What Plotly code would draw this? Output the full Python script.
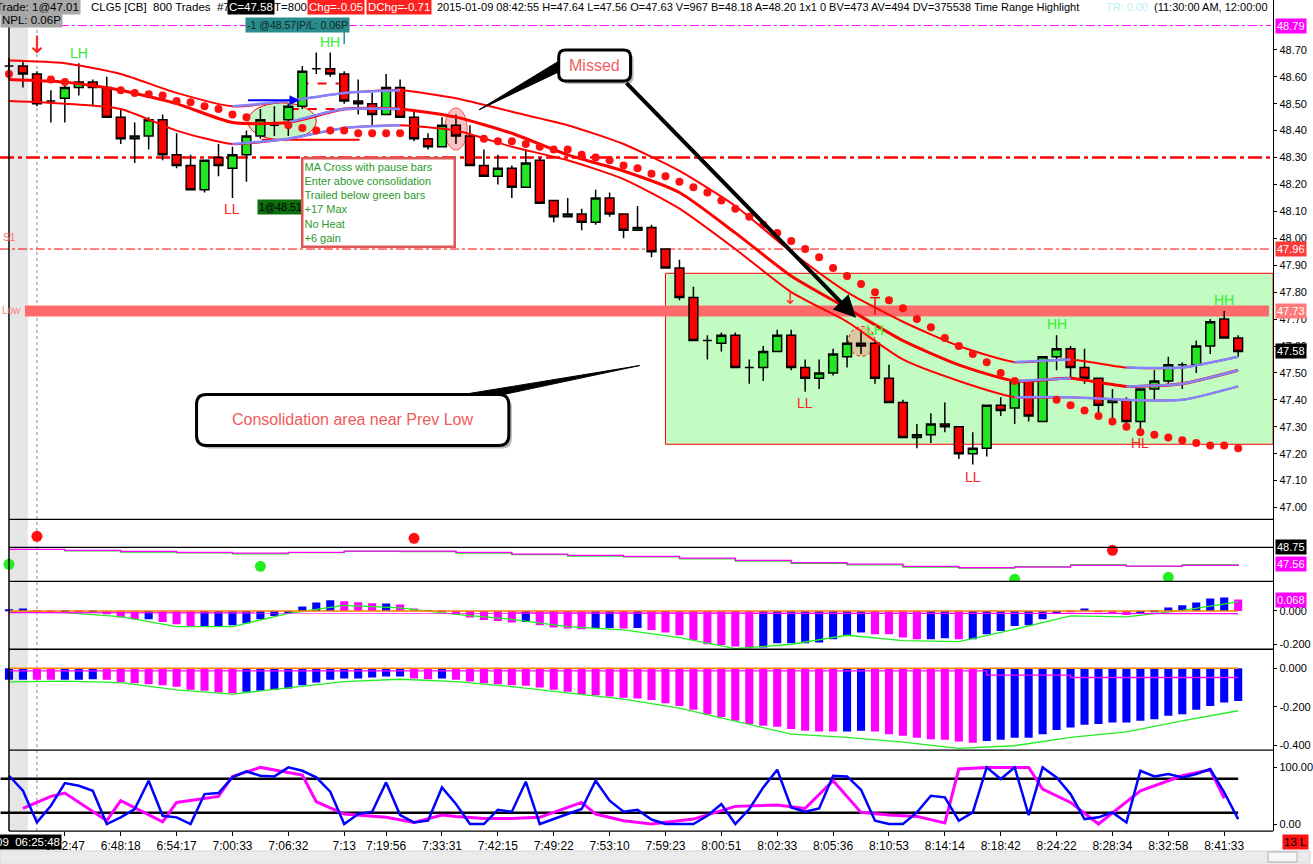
import plotly.graph_objects as go

W, H = 1313, 864
FONT = 'Liberation Sans, Arial, sans-serif'


def px(x):
    return x / W


def py(y):
    return 1 - y / H


# ---- price bars (one bar per 800 trades) ----
bars = list(range(89))
opens = [48.64, 48.64, 48.61, 48.51, 48.52, 48.56, 48.58, 48.56, 48.45, 48.37,
         48.38, 48.44, 48.31, 48.27, 48.18, 48.30, 48.26, 48.31, 48.38, 48.42,
         48.44, 48.49, 48.63, 48.63, 48.61, 48.51, 48.50, 48.46, 48.56, 48.45,
         48.37, 48.34, 48.42, 48.38, 48.27, 48.23, 48.26, 48.19, 48.29, 48.14,
         48.08, 48.09, 48.06, 48.15, 48.09, 48.03, 48.04, 47.96, 47.89, 47.78,
         47.62, 47.61, 47.64, 47.52, 47.52, 47.58, 47.64, 47.52, 47.48, 47.50,
         47.56, 47.61, 47.61, 47.48, 47.39, 47.26, 47.27, 47.31, 47.30, 47.20,
         47.22, 47.38, 47.37, 47.47, 47.32, 47.56, 47.59, 47.52, 47.48, 47.39,
         47.40, 47.32, 47.44, 47.47, 47.53, 47.53, 47.60, 47.70, 47.63]
highs = [48.67, 48.66, 48.62, 48.55, 48.59, 48.65, 48.59, 48.60, 48.48, 48.43,
         48.45, 48.46, 48.39, 48.31, 48.29, 48.35, 48.34, 48.40, 48.48, 48.49,
         48.50, 48.64, 48.69, 48.69, 48.62, 48.59, 48.54, 48.61, 48.59, 48.47,
         48.39, 48.45, 48.46, 48.42, 48.33, 48.31, 48.27, 48.33, 48.30, 48.14,
         48.15, 48.11, 48.18, 48.17, 48.09, 48.12, 48.05, 47.96, 47.92, 47.82,
         47.64, 47.65, 47.65, 47.55, 47.60, 47.66, 47.66, 47.55, 47.55, 47.59,
         47.64, 47.66, 47.62, 47.53, 47.40, 47.31, 47.35, 47.39, 47.30, 47.28,
         47.38, 47.41, 47.47, 47.47, 47.56, 47.64, 47.60, 47.59, 47.48, 47.44,
         47.41, 47.44, 47.51, 47.56, 47.54, 47.62, 47.70, 47.73, 47.64]
lows = [48.60, 48.56, 48.49, 48.43, 48.43, 48.53, 48.49, 48.45, 48.35, 48.28,
        48.33, 48.29, 48.26, 48.18, 48.17, 48.23, 48.15, 48.21, 48.37, 48.38,
        48.38, 48.48, 48.61, 48.60, 48.50, 48.46, 48.42, 48.46, 48.45, 48.36,
        48.33, 48.34, 48.35, 48.27, 48.23, 48.20, 48.15, 48.19, 48.13, 48.06,
        48.08, 48.03, 48.05, 48.08, 48.00, 48.03, 47.93, 47.89, 47.77, 47.62,
        47.55, 47.58, 47.52, 47.46, 47.47, 47.58, 47.51, 47.43, 47.44, 47.49,
        47.52, 47.57, 47.46, 47.39, 47.26, 47.22, 47.24, 47.28, 47.18, 47.16,
        47.19, 47.34, 47.31, 47.32, 47.32, 47.51, 47.48, 47.46, 47.34, 47.33,
        47.31, 47.28, 47.40, 47.46, 47.44, 47.50, 47.57, 47.63, 47.56]
closes = [48.64, 48.61, 48.50, 48.51, 48.56, 48.58, 48.56, 48.45, 48.37, 48.38,
          48.44, 48.31, 48.27, 48.18, 48.29, 48.27, 48.31, 48.38, 48.44, 48.42,
          48.49, 48.62, 48.63, 48.61, 48.51, 48.50, 48.46, 48.56, 48.45, 48.37,
          48.34, 48.42, 48.38, 48.27, 48.23, 48.26, 48.19, 48.28, 48.13, 48.08,
          48.09, 48.06, 48.15, 48.09, 48.03, 48.04, 47.95, 47.89, 47.78, 47.62,
          47.62, 47.64, 47.52, 47.52, 47.58, 47.64, 47.52, 47.48, 47.50, 47.57,
          47.61, 47.60, 47.48, 47.39, 47.26, 47.27, 47.31, 47.30, 47.20, 47.22,
          47.38, 47.36, 47.47, 47.34, 47.56, 47.59, 47.52, 47.48, 47.38, 47.40,
          47.32, 47.44, 47.47, 47.53, 47.53, 47.60, 47.69, 47.63, 47.58]

# ---- moving average bands, read every 4th bar ----
band_x = [0, 4, 8, 12, 16, 20, 24, 28, 32, 36, 40, 44, 48, 52, 56, 60, 64, 68, 72, 76, 80, 84, 88]
band_upper = [48.66, 48.65, 48.61, 48.54, 48.49, 48.51, 48.54, 48.55, 48.52, 48.47, 48.42, 48.35,
              48.25, 48.12, 47.95, 47.80, 47.69, 47.60, 47.54, 47.55, 47.52, 47.52, 47.56]
band_mid = [48.59, 48.58, 48.55, 48.50, 48.43, 48.43, 48.48, 48.48, 48.45, 48.39, 48.31, 48.25,
            48.17, 48.02, 47.86, 47.74, 47.62, 47.53, 47.47, 47.48, 47.45, 47.46, 47.51]
band_lower = [48.51, 48.50, 48.48, 48.40, 48.35, 48.37, 48.41, 48.42, 48.40, 48.34, 48.29, 48.22,
              48.11, 47.96, 47.80, 47.69, 47.55, 47.47, 47.41, 47.41, 47.40, 47.40, 47.45]

# ---- trailing stop dots ----
dot_x = [0, 3, 4, 8, 9, 10, 11, 12, 13, 14, 15, 16, 17, 20, 21, 22, 23, 24, 25, 26, 27, 28,
         34, 35, 36, 37, 38, 39, 40, 41, 42, 43, 44, 45, 46, 47, 48, 49, 50, 51, 52, 53,
         54, 55, 56, 57, 58, 59, 60, 61, 62, 63, 64, 65, 66, 67, 68, 69, 70, 71, 72,
         75, 76, 77, 78, 79, 80, 81, 82, 83, 84, 85, 86, 87, 88]
dot_y = [48.61, 48.59, 48.58, 48.55, 48.54, 48.535, 48.53, 48.51, 48.505, 48.49, 48.48, 48.46, 48.45,
         48.42, 48.41, 48.40, 48.40, 48.40, 48.39, 48.39, 48.39, 48.39,
         48.37, 48.36, 48.36, 48.35, 48.34, 48.33, 48.33, 48.31, 48.30, 48.29,
         48.27, 48.26, 48.24, 48.23, 48.21, 48.19, 48.17, 48.14, 48.11, 48.08,
         48.05, 48.02, 47.99, 47.96, 47.93, 47.89, 47.86, 47.83, 47.80, 47.77,
         47.74, 47.70, 47.67, 47.63, 47.60, 47.57, 47.54, 47.50, 47.47,
         47.40, 47.38, 47.36, 47.34, 47.32, 47.30, 47.28, 47.27, 47.26, 47.25, 47.24, 47.23, 47.23, 47.22]

# ---- price levels ----
lvl_r1 = 48.79
lvl_pivot = 48.30
lvl_s1 = 47.96
lvl_prev_low = 47.73
last_price = 47.58
box_top, box_bottom = 47.87, 47.235
price_ticks = [47.00, 47.10, 47.20, 47.30, 47.40, 47.50, 47.60, 47.70, 47.80, 47.90,
               48.00, 48.10, 48.20, 48.30, 48.40, 48.50, 48.60, 48.70]

swing_labels = [(5, 48.69, 'LH'), (23, 48.73, 'HH'), (16, 48.11, 'LL'), (57, 47.39, 'LL'),
                (62, 47.66, 'LH'), (75, 47.68, 'HH'), (87, 47.77, 'HH'), (81, 47.24, 'HL'),
                (69, 47.115, 'LL')]

# ---- panel 2: slow average ----
slow_mag = [48.61, 48.54, 48.47, 48.40, 48.35, 48.40, 48.49, 48.49, 48.40, 48.28, 48.19, 48.12,
            48.00, 47.84, 47.68, 47.58, 47.42, 47.33, 47.37, 47.49, 47.44, 47.49, 47.56]
slow_grn = [48.60, 48.50, 48.42, 48.36, 48.30, 48.38, 48.47, 48.45, 48.35, 48.24, 48.14, 48.08,
            47.95, 47.78, 47.62, 47.52, 47.36, 47.30, 47.40, 47.53, 47.42, 47.52, 47.58]
slow_level = 48.75
sell_x, sell_y = [2, 29, 79], [49.52, 49.38, 48.54]
buy_x, buy_y = [0, 18, 72, 83], [47.56, 47.42, 46.51, 46.65]

# ---- panel 3: fast MACD histogram ----
macd_fast = [0.010, 0.014, -0.006, -0.004, -0.006, -0.004, -0.004, -0.020, -0.040, -0.050,
             -0.050, -0.066, -0.080, -0.096, -0.096, -0.096, -0.086, -0.074, -0.050, -0.030,
             -0.014, 0.026, 0.050, 0.064, 0.058, 0.052, 0.046, 0.044, 0.038, 0.014,
             -0.002, -0.010, -0.020, -0.040, -0.054, -0.060, -0.070, -0.066, -0.086, -0.100,
             -0.106, -0.110, -0.102, -0.102, -0.106, -0.102, -0.114, -0.130, -0.146, -0.174,
             -0.200, -0.204, -0.214, -0.224, -0.220, -0.194, -0.194, -0.194, -0.190, -0.170,
             -0.146, -0.130, -0.140, -0.140, -0.160, -0.170, -0.170, -0.164, -0.170, -0.170,
             -0.140, -0.120, -0.090, -0.086, -0.050, -0.016, -0.004, 0.014, -0.006, -0.014,
             -0.024, -0.014, -0.006, 0.020, 0.034, 0.050, 0.074, 0.080, 0.068]
macd_fast_col = ('bbmmbmbmmm' 'bmmmbbbbbb' 'bbbbmmmbmm' 'mmmmmmmbmm' 'mmbbmbmmmm'
                 'mmmmbbbbbb' 'bbmmmmbbmb' 'bbbbbbmbmm' 'mbbbbbbbm')
macd_fast_sig = [-0.004, -0.010, -0.034, -0.094, -0.094, -0.014, 0.034, 0.018, -0.020, -0.050, -0.094,
                 -0.114, -0.160, -0.226, -0.200, -0.146, -0.178, -0.184, -0.110, -0.030, -0.036, 0.004, 0.054]
macd_fast_avg_x, macd_fast_avg_y = [0, 46, 88], [-0.010, -0.014, -0.016]

# ---- panel 4: slow MACD histogram ----
macd_slow = [-0.060, -0.060, -0.060, -0.060, -0.060, -0.060, -0.057, -0.060, -0.071, -0.078,
             -0.083, -0.088, -0.096, -0.112, -0.117, -0.126, -0.129, -0.122, -0.117, -0.112,
             -0.105, -0.088, -0.074, -0.060, -0.053, -0.053, -0.048, -0.043, -0.043, -0.053,
             -0.057, -0.053, -0.060, -0.069, -0.078, -0.083, -0.088, -0.091, -0.100, -0.112,
             -0.122, -0.134, -0.140, -0.146, -0.153, -0.157, -0.164, -0.181, -0.195, -0.215,
             -0.238, -0.252, -0.272, -0.289, -0.298, -0.303, -0.315, -0.324, -0.327, -0.327,
             -0.327, -0.324, -0.327, -0.341, -0.350, -0.360, -0.367, -0.370, -0.379, -0.386,
             -0.376, -0.370, -0.360, -0.360, -0.341, -0.319, -0.307, -0.293, -0.288, -0.281,
             -0.281, -0.272, -0.264, -0.246, -0.238, -0.215, -0.195, -0.177, -0.169]
macd_slow_col = ('bbmmbbbmmm' 'mmmmmmmbbb' 'bbbbbbbbbm' 'mbmmmmmmmm' 'mmmmmmmmmm'
                 'mmmmmmmmmm' 'bbmmmmmmmm' 'bbbbbbbbbb' 'bbbbbbbbb')
macd_slow_sig = [-0.071, -0.067, -0.074, -0.112, -0.134, -0.100, -0.069, -0.057, -0.069, -0.095, -0.129,
                 -0.160, -0.207, -0.272, -0.341, -0.358, -0.382, -0.415, -0.401, -0.358, -0.329, -0.272, -0.220]
macd_slow_avg_x, macd_slow_avg_y = [0, 70, 76, 88], [-0.014, -0.036, -0.048, -0.048]

# ---- panel 5: stochastic ----
stoch_k = [85.3, 58.8, 2.9, 32.4, 72.4, 67.6, 58.8, 0, 11.8, 26.5,
           76.5, 14.7, 11.8, 0, 52.9, 54.7, 82.4, 92.9, 85.3, 84.1,
           100, 94.1, 82.4, 57.1, 0, 17.6, 21.8, 73.5, 15.9, 2.9,
           5.9, 64.7, 35.3, 0, 0, 25.3, 21.8, 74.7, 0, 8.8,
           17.6, 26.5, 76.5, 41.2, 21.8, 25.3, 8.0, 0, 0, 0,
           14.7, 35.3, 0, 26.5, 64.7, 95.9, 29.4, 21.8, 27.6, 85.3,
           84.1, 60.6, 5.9, 0, 0, 20.6, 50.0, 47.1, 5.9, 20.6,
           100, 79.4, 100, 15.9, 100, 82.4, 52.9, 8.8, 11.8, 20.6,
           2.9, 94.1, 84.1, 88.2, 82.4, 88.2, 97.1, 55.9, 8.8]
stoch_d_x = [1, 3, 4, 7, 8, 11, 12, 15, 16, 18, 21, 22, 24, 27, 29, 31, 32, 34, 36, 38, 41, 42,
             44, 46, 49, 51, 52, 55, 57, 59, 61, 63, 65, 67, 68, 70, 73, 74, 76, 78, 81, 84, 86, 87]
stoch_d_y = [27.6, 48.8, 54.7, 5.9, 41.2, 4.1, 38.2, 48.8, 84.1, 100, 86.5, 39.4, 17.6, 11.8, 2.9,
             15.9, 13.5, 10.0, 10.0, 11.8, 38.2, 17.6, 5.9, 0, 8.8, 23.5, 31.2, 33.5, 27.6, 76.5,
             20.6, 15.9, 13.5, 1.8, 97.1, 100, 100, 61.8, 38.2, 0, 58.8, 85.3, 95.9, 45.3]
stoch_levels = [80, 20]

tick_idx = [4, 8, 12, 16, 20, 24, 27, 31, 35, 39, 43, 47, 51, 55, 59, 63, 67, 71, 75, 79, 83, 87]
tick_txt = ['6:42:47', '6:48:18', '6:54:17', '7:00:33', '7:06:32', '7:13', '7:19:56', '7:33:31',
            '7:42:15', '7:49:22', '7:53:10', '7:59:23', '8:00:51', '8:02:33', '8:05:36', '8:10:53',
            '8:14:14', '8:18:42', '8:24:22', '8:28:34', '8:32:58', '8:41:33']

RED = '#ff0000'
GREEN = '#22e622'
BLUE = '#0000ff'
MAG = '#ff00ff'
LBLUE = '#8484ff'
cmap = {'b': BLUE, 'm': MAG}
AXR = 1276  # right price axis, in pixels

fig = go.Figure()


def seg(vals, a, b):
    i0, i1 = band_x.index(a), band_x.index(b) + 1
    return band_x[i0:i1], vals[i0:i1]


# bands
for vals, w in [(band_upper, 2), (band_mid, 3), (band_lower, 2)]:
    fig.add_trace(go.Scatter(x=band_x, y=vals, mode='lines', line=dict(color=RED, width=w, shape='spline', smoothing=0.6),
                             yaxis='y', hoverinfo='skip'))
for vals, parts in [(band_upper, [(16, 28), (72, 76), (80, 88)]),
                    (band_mid, [(20, 28), (72, 76), (80, 88)]),
                    (band_lower, [(16, 28), (72, 88)])]:
    for a, b in parts:
        sx, sy = seg(vals, a, b)
        fig.add_trace(go.Scatter(x=sx, y=sy, mode='lines', line=dict(color=LBLUE, width=2.5, shape='spline', smoothing=0.6),
                                 yaxis='y', hoverinfo='skip'))

fig.add_trace(go.Scatter(x=dot_x, y=dot_y, mode='markers', marker=dict(color='#ff1010', size=8),
                         yaxis='y', hoverinfo='skip'))

fig.add_trace(go.Candlestick(
    x=bars, open=opens, high=highs, low=lows, close=closes, yaxis='y', whiskerwidth=0,
    increasing=dict(line=dict(color='black', width=1.5), fillcolor=GREEN),
    decreasing=dict(line=dict(color='black', width=1.5), fillcolor=RED),
    hoverinfo='skip'))

# panel 2
fig.add_trace(go.Scatter(x=band_x, y=slow_grn, mode='lines', line=dict(color='#22dd22', width=1.2, shape='hv'), yaxis='y2'))
fig.add_trace(go.Scatter(x=band_x, y=slow_mag, mode='lines', line=dict(color=MAG, width=1.2, shape='hv'), yaxis='y2'))
fig.add_trace(go.Scatter(x=sell_x, y=sell_y, mode='markers', marker=dict(color='#ff1010', size=11, symbol='circle'), yaxis='y2'))
fig.add_trace(go.Scatter(x=buy_x, y=buy_y, mode='markers', marker=dict(color='#22ee22', size=11), yaxis='y2'))

# panel 3
fig.add_trace(go.Bar(x=bars, y=macd_fast, marker=dict(color=[cmap[c] for c in macd_fast_col], line=dict(width=0)),
                     width=0.58, yaxis='y3'))
fig.add_trace(go.Scatter(x=band_x, y=macd_fast_sig, mode='lines', line=dict(color='#22ee22', width=1.3), yaxis='y3'))
fig.add_trace(go.Scatter(x=macd_fast_avg_x, y=macd_fast_avg_y, mode='lines', line=dict(color=MAG, width=1.3), yaxis='y3'))
fig.add_trace(go.Scatter(x=[bars[0], bars[-1]], y=[0, 0], mode='lines', line=dict(color='#ff8000', width=1.5), yaxis='y3'))

# panel 4
fig.add_trace(go.Bar(x=bars, y=macd_slow, marker=dict(color=[cmap[c] for c in macd_slow_col], line=dict(width=0)),
                     width=0.58, yaxis='y4'))
fig.add_trace(go.Scatter(x=band_x, y=macd_slow_sig, mode='lines', line=dict(color='#22ee22', width=1.3), yaxis='y4'))
fig.add_trace(go.Scatter(x=macd_slow_avg_x, y=macd_slow_avg_y, mode='lines', line=dict(color=MAG, width=1.3, shape='hv'), yaxis='y4'))
fig.add_trace(go.Scatter(x=[bars[0], bars[-1]], y=[0, 0], mode='lines', line=dict(color='#ff8000', width=1.5), yaxis='y4'))

# panel 5
fig.add_trace(go.Scatter(x=stoch_d_x, y=stoch_d_y, mode='lines', line=dict(color=MAG, width=3), yaxis='y5'))
fig.add_trace(go.Scatter(x=bars, y=stoch_k, mode='lines', line=dict(color=BLUE, width=2.5), yaxis='y5'))

shapes = []


def hline(yv, x0, x1, yref, color, width, dash='solid', layer='below'):
    shapes.append(dict(type='line', xref='paper', yref=yref, x0=px(x0), x1=px(x1), y0=yv, y1=yv,
                       line=dict(color=color, width=width, dash=dash), layer=layer))


def pline(x0, y0, x1, y1, color, width, dash='solid', layer='above'):
    shapes.append(dict(type='line', xref='paper', yref='paper', x0=px(x0), y0=py(y0), x1=px(x1), y1=py(y1),
                       line=dict(color=color, width=width, dash=dash), layer=layer))


def rrect(x0, y0, x1, y1, r):
    rx, ry = r / W, r / H
    a, b, c, d = px(x0), py(y0), px(x1), py(y1)
    return (f'M {a + rx} {b} L {c - rx} {b} Q {c} {b} {c} {b - ry} L {c} {d + ry} Q {c} {d} {c - rx} {d} '
            f'L {a + rx} {d} Q {a} {d} {a} {d + ry} L {a} {b - ry} Q {a} {b} {a + rx} {b} Z')


def poly(pts):
    return 'M ' + ' L '.join(f'{px(x)} {py(y)}' for x, y in pts) + ' Z'


# left gray strip, borders
shapes.append(dict(type='rect', xref='paper', yref='paper', x0=px(10), x1=px(28), y0=py(832), y1=1,
                   fillcolor='#e6e6e6', line=dict(width=0), layer='below'))
pline(37, 0, 37, 832, '#888888', 1, 'dot', 'below')
pline(9, 0, 9, 832, 'black', 1.5)

# consolidation box
shapes.append(dict(type='rect', xref='paper', yref='y', x0=px(667), x1=px(AXR), y0=box_bottom, y1=box_top,
                   fillcolor='#c2fcc2', line=dict(color=RED, width=1), layer='below'))
hline(lvl_r1, 60, 1274, 'y', MAG, 1, 'dashdot')
hline(lvl_pivot, 0, 1274, 'y', RED, 2.5, '14px,4px,4px,4px')
hline(lvl_s1, 0, 1274, 'y', RED, 1, 'dashdot')
hline(lvl_prev_low, 25, 1272, 'y', '#ff6b6b', 11)

# trade markers
shapes.append(dict(type='circle', xref='x', yref='y', x0=17.1, x1=22.0, y0=48.366, y1=48.503,
                   fillcolor='#c4f5c4', line=dict(color=RED, width=1), layer='below'))
shapes.append(dict(type='circle', xref='x', yref='y', x0=31.2, x1=32.8, y0=48.328, y1=48.484,
                   fillcolor='#f9c2c2', line=dict(color='#ff5050', width=1), layer='below'))
shapes.append(dict(type='circle', xref='x', yref='y', x0=60.1, x1=62.0, y0=47.562, y1=47.673,
                   fillcolor='#dac89f', line=dict(color=RED, width=1, dash='dot'), layer='below'))
shapes.append(dict(type='line', xref='x', yref='y', x0=20.8, x1=23.9, y0=48.575, y1=48.575,
                   line=dict(color=RED, width=2, dash='dash'), layer='below'))
shapes.append(dict(type='line', xref='x', yref='y', x0=20.1, x1=23.7, y0=48.48, y1=48.48,
                   line=dict(color=RED, width=2, dash='dash'), layer='below'))
shapes.append(dict(type='line', xref='x', yref='y', x0=18.1, x1=25.1, y0=48.366, y1=48.366,
                   line=dict(color=RED, width=2), layer='below'))
pline(345, 31, 345, 44, '#2a8c8c', 1.5)
pline(877, 298, 877, 315, RED, 1.5)
pline(872, 298, 882, 298, RED, 1.5)

# callouts
shapes.append(dict(type='path', path=rrect(563, 53, 635, 84, 7), xref='paper', yref='paper',
                   fillcolor='#b8b8b8', line=dict(width=0), layer='above'))
shapes.append(dict(type='path', path=poly([(562, 60), (480, 110), (562, 71)]), xref='paper', yref='paper',
                   fillcolor='black', line=dict(color='black', width=1), layer='above'))
shapes.append(dict(type='path', path=rrect(560, 50, 632, 81, 7), xref='paper', yref='paper',
                   fillcolor='white', line=dict(color='black', width=3), layer='above'))
shapes.append(dict(type='path', path=poly([(470, 394), (641, 366), (500, 396)]), xref='paper', yref='paper',
                   fillcolor='black', line=dict(color='black', width=1), layer='above'))
shapes.append(dict(type='path', path=rrect(200, 398, 513, 449, 10), xref='paper', yref='paper',
                   fillcolor='#b8b8b8', line=dict(width=0), layer='above'))
shapes.append(dict(type='path', path=rrect(197, 395, 510, 446, 10), xref='paper', yref='paper',
                   fillcolor='white', line=dict(color='black', width=3), layer='above'))

# panel separators and indicator levels
for yy in [520, 582, 650, 751, 832]:
    pline(9, yy, AXR, yy, 'black', 1.3)
hline(slow_level, 9, AXR, 'y2', 'black', 1.3, layer='above')
for lv in stoch_levels:
    shapes.append(dict(type='line', xref='x', yref='y5', x0=-0.6, x1=88, y0=lv, y1=lv,
                       line=dict(color='black', width=2.5), layer='below'))

# bottom scrollbar
shapes.append(dict(type='rect', xref='paper', yref='paper', x0=0, x1=1, y0=0, y1=py(852),
                   fillcolor='#ebebeb', line=dict(color='#d6d6d6', width=1), layer='above'))
shapes.append(dict(type='rect', xref='paper', yref='paper', x0=px(1271), x1=px(1300), y0=py(863), y1=py(853),
                   fillcolor='#f8f8f8', line=dict(color='#b0b0b0', width=1), layer='above'))

ann = []


def label(x, y, text, color='black', size=11.5, bg=None, xanchor='left', yanchor='middle', yref='paper', **kw):
    d = dict(x=px(x), y=py(y) if yref == 'paper' else y, xref='paper', yref=yref, text=text, showarrow=False,
             font=dict(family=FONT, size=size, color=color), xanchor=xanchor, yanchor=yanchor, borderpad=1)
    if bg:
        d['bgcolor'] = bg
    d.update(kw)
    ann.append(d)


# header
label(-6, 7, 'Trade: 1@47.01', bg='#a8a8a8')
label(89, 7, 'CLG5 [CB]  800 Trades  #7')
label(228, 7, 'C=47.58', color='white', bg='black')
label(273, 7, 'T=800')
label(308, 7, 'Chg=-0.05', color='white', bg='#ff2020')
label(367, 7, 'DChg=-0.71', color='white', bg='#ff2020')
label(436, 7, '2015-01-09 08:42:55 H=47.64 L=47.56 O=47.63 V=967 B=48.18 A=48.20 1x1 0 '
              'BV=473 AV=494 DV=375538 Time Range Highlight', size=11)
label(1107, 7, 'TR: 0.00', color='#b8f0f6', size=11)
label(1155, 7, '(11:30:00 AM, 12:00:00', size=11)
label(0, 20, 'NPL: 0.06P', bg='#a8a8a8')
label(246, 25, '-1 @48.57|P/L: 0.06P', color='#0c2828', bg='#2a8c8c', size=10.5)
label(258, 207, '1@48.51', color='black', bg='#0d6e0d', size=10.5)
label(1, 238, 'S1', color='#ff6a6a', size=10)
label(0, 311, 'Low', color='#ff7a7a', size=10)

# right axis value boxes
label(1278, lvl_r1, '48.79', color='white', bg=MAG, yref='y', size=11)
label(1278, lvl_s1, '47.96', color='white', bg='#ff3a3a', yref='y', size=11)
label(1278, lvl_prev_low, '47.73', color='white', bg='#ff7a7a', yref='y', size=11)
label(1278, last_price, '47.58', color='white', bg='black', yref='y', size=11)
label(1278, slow_level, '48.75', color='white', bg='black', yref='y2', size=11)
label(1278, slow_mag[-1], '47.56', color='white', bg=MAG, yref='y2', size=11)
label(1278, macd_fast[-1], '0.068', color='white', bg=MAG, yref='y3', size=11)

# swing labels
for bx, by, txt in swing_labels:
    ann.append(dict(x=bx, y=by, xref='x', yref='y', text=txt, showarrow=False,
                    font=dict(family=FONT, size=14, color='#ff2020' if txt in ('LL', 'HL') else '#33ee33')))

# arrows / notes
label(37, 45, '↓', color='#ff2020', size=24, xanchor='center')
ann[-1]['font']['family'] = 'DejaVu Sans'
label(792, 298, '↓', color='#ff3030', size=17, xanchor='center')
ann[-1]['font']['family'] = 'DejaVu Sans'
ann.append(dict(x=20.8, y=48.513, xref='x', yref='y', ax=-53, ay=0, text='', showarrow=True,
                arrowhead=2, arrowwidth=2, arrowcolor=BLUE, arrowsize=1))
ann.append(dict(x=px(858), y=py(318), xref='paper', yref='paper', ax=627 - 858, ay=82 - 318, text='',
                showarrow=True, arrowhead=2, arrowwidth=4, arrowcolor='black', arrowsize=1.1))
label(302, 157, 'MA Cross with pause bars<br>Enter above consolidation<br>Trailed below green bars<br>'
                '+17 Max<br>No Heat<br>+6 gain', color='#2a9a2a', size=11, bg='white', yanchor='top',
      align='left', bordercolor='#e05555', borderwidth=2.5, width=148, borderpad=1)
label(596, 66, 'Missed', color='#f26060', size=16, xanchor='center')
label(353, 420, 'Consolidation area near Prev Low', color='#f05a5a', size=16, xanchor='center')

# bottom boxes
label(62, 843, '2015-01-09  06:25:48', color='white', bg='black', xanchor='right')
label(1285, 843, '13 L', color='black', bg='#ff1010')

tickfont = dict(family=FONT, size=11, color='black')
yax = dict(side='right', anchor='x', showgrid=False, zeroline=False, showline=True, linecolor='black',
           linewidth=1.3, ticks='outside', ticklen=3, tickcolor='black', tickfont=tickfont)

fig.update_layout(
    width=W, height=H, margin=dict(l=0, r=0, t=0, b=0),
    paper_bgcolor='white', plot_bgcolor='white', showlegend=False,
    font=dict(family=FONT, size=12, color='black'),
    xaxis=dict(domain=[0, AXR / W], range=[-0.643, -0.643 + AXR / 14], anchor='y5', type='linear',
               showgrid=False, zeroline=False, showline=False, tickvals=tick_idx, ticktext=tick_txt,
               ticks='outside', ticklen=4, tickcolor='black', tickfont=dict(tickfont, size=12),
               rangeslider=dict(visible=False)),
    yaxis=dict(yax, domain=[py(520), 1], range=[46.956, 48.885], tickvals=price_ticks,
               ticktext=[f'{v:.2f}' for v in price_ticks]),
    yaxis2=dict(yax, domain=[py(582), py(520)], range=[46.372, 50.708], showticklabels=False, ticks=''),
    yaxis3=dict(yax, domain=[py(650), py(582)], range=[-0.2299, 0.1778], tickvals=[0, -0.2],
                ticktext=['0.000', '-0.200']),
    yaxis4=dict(yax, domain=[py(751), py(650)], range=[-0.4238, 0.0982], tickvals=[0, -0.2, -0.4],
                ticktext=['0.000', '-0.200', '-0.400']),
    yaxis5=dict(yax, domain=[py(832), py(751)], range=[-12.35, 130.5], tickvals=[100, 0],
                ticktext=['100.00', '0.00']),
    shapes=shapes, annotations=ann, bargap=0.4, boxgap=0.1,
)

fig.write_html('out.html', config={'displayModeBar': False},
               post_script="document.body.style.margin='0px';")
